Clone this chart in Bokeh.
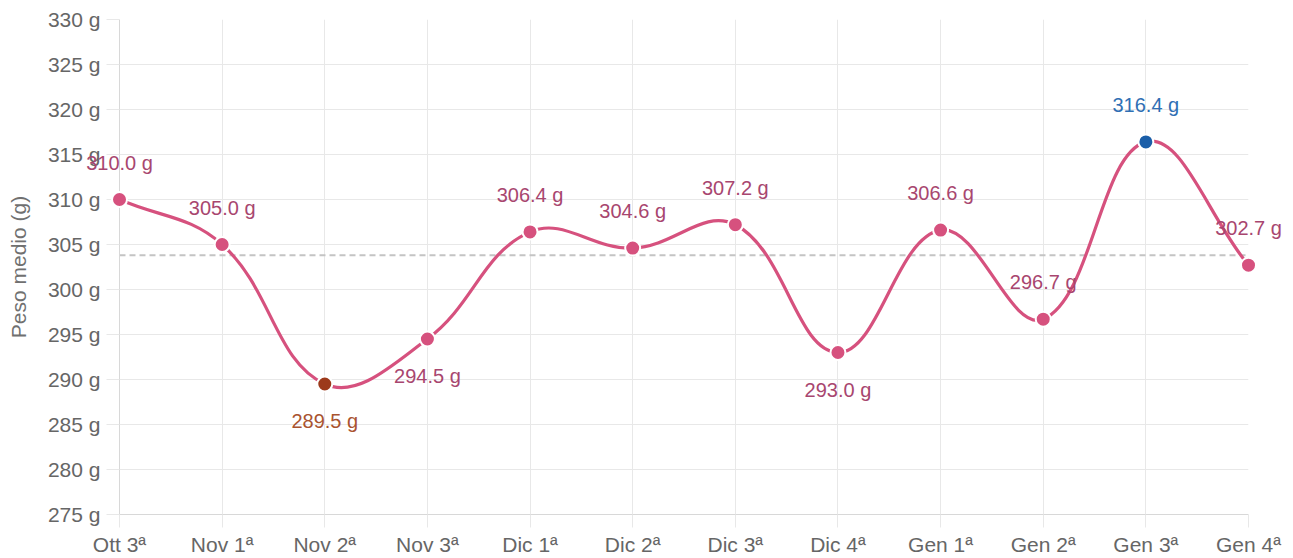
import numpy as np
from bokeh.plotting import figure
from bokeh.models import FixedTicker, PrintfTickFormatter, Span, ColumnDataSource, Range1d
from bokeh.embed import file_html
from bokeh.resources import INLINE
from bokeh.core.properties import value

# ---- data ----
categories = ["Ott 3ª", "Nov 1ª", "Nov 2ª", "Nov 3ª", "Dic 1ª", "Dic 2ª",
              "Dic 3ª", "Dic 4ª", "Gen 1ª", "Gen 2ª", "Gen 3ª", "Gen 4ª"]
weights = [310.0, 305.0, 289.5, 294.5, 306.4, 304.6, 307.2, 293.0, 306.6, 296.7, 316.4, 302.7]
reference_weight = 303.8
y_ticks = [275, 280, 285, 290, 295, 300, 305, 310, 315, 320, 325, 330]

# ---- layout ----
W, H = 1293, 558
ML, MR, MT, MB = 119, 45, 19, 43
FONT = "Liberation Sans"
n = len(categories)
xs = list(range(n))
ymin, ymax = y_ticks[0], y_ticks[-1]

p = figure(width=W, height=H, x_range=Range1d(0, n - 1), y_range=Range1d(ymin, ymax),
           output_backend="svg", toolbar_location=None,
           min_border_left=ML, min_border_right=MR, min_border_top=MT, min_border_bottom=MB)
p.outline_line_color = None
p.background_fill_color = "white"

grid_col = "#e8e8e8"
p.xgrid.grid_line_color = grid_col
p.ygrid.grid_line_color = grid_col

# y axis
p.yaxis.ticker = FixedTicker(ticks=y_ticks)
p.yaxis.formatter = PrintfTickFormatter(format="%d g")
p.yaxis.axis_label = "Peso medio (g)"
p.yaxis.axis_label_text_font = FONT
p.yaxis.axis_label_text_font_size = "21px"
p.yaxis.axis_label_text_font_style = "normal"
p.yaxis.axis_label_text_color = "#707070"
p.yaxis.axis_label_standoff = 15

# x axis
p.xaxis.ticker = FixedTicker(ticks=xs)
p.xaxis.major_label_overrides = {i: c for i, c in enumerate(categories)}

for ax in (p.xaxis, p.yaxis):
    ax.major_label_text_font = FONT
    ax.major_label_text_font_size = "21px"
    ax.major_label_text_color = "#666666"
    ax.major_tick_in = 0
    ax.major_tick_out = 13
    ax.major_tick_line_color = grid_col
    ax.minor_tick_line_color = None
    ax.axis_line_color = "#d8d8d8"
p.yaxis.major_label_standoff = 6
p.xaxis.major_label_standoff = 5

# reference dashed line
p.add_layout(Span(location=reference_weight, dimension="width", line_color="#c4c4c4",
                  line_dash="6 4", line_width=2, level="underlay"))

# ---- Chart.js-like spline (tension 0.4) ----
fw = W - ML - MR
fh = H - MT - MB
sx = fw / (n - 1)
sy = fh / (ymax - ymin)
px = np.array(xs, float) * sx
py = np.array(weights, float) * sy
t = 0.4
prev_c = []
next_c = []
for i in range(n):
    a = i - 1 if i > 0 else i
    b = i + 1 if i < n - 1 else i
    d01 = np.hypot(px[i] - px[a], py[i] - py[a])
    d12 = np.hypot(px[b] - px[i], py[b] - py[i])
    tot = d01 + d12
    s01 = d01 / tot if tot else 0
    s12 = d12 / tot if tot else 0
    fa, fb = t * s01, t * s12
    prev_c.append((px[i] - fa * (px[b] - px[a]), py[i] - fa * (py[b] - py[a])))
    next_c.append((px[i] + fb * (px[b] - px[a]), py[i] + fb * (py[b] - py[a])))

seg = ColumnDataSource(dict(
    x0=[xs[i] for i in range(n - 1)],
    y0=[weights[i] for i in range(n - 1)],
    x1=[xs[i + 1] for i in range(n - 1)],
    y1=[weights[i + 1] for i in range(n - 1)],
    cx0=[next_c[i][0] / sx for i in range(n - 1)],
    cy0=[next_c[i][1] / sy for i in range(n - 1)],
    cx1=[prev_c[i + 1][0] / sx for i in range(n - 1)],
    cy1=[prev_c[i + 1][1] / sy for i in range(n - 1)],
))
p.bezier(x0="x0", y0="y0", x1="x1", y1="y1", cx0="cx0", cy0="cy0", cx1="cx1", cy1="cy1",
         source=seg, line_color="#d6517e", line_width=3.2, line_cap="round")

# ---- points and labels ----
imin = int(np.argmin(weights))
imax = int(np.argmax(weights))
fill = []
lab_col = []
for i in range(n):
    if i == imin:
        fill.append("#9c3a1b"); lab_col.append("#a9532f")
    elif i == imax:
        fill.append("#1b5ea8"); lab_col.append("#2f6fb4")
    else:
        fill.append("#d6517e"); lab_col.append("#a8466f")
offs = [37 if w < 295 else -37 for w in weights]
labels = ["%.1f g" % w for w in weights]
src = ColumnDataSource(dict(x=xs, y=weights, fill=fill, lc=lab_col, off=offs, lab=labels))

pts = p.scatter("x", "y", source=src, size=15, fill_color="fill", line_color="white", line_width=2)
pts.level = "overlay"
txt = p.text("x", "y", text="lab", source=src, y_offset="off", text_color="lc",
             text_align="center", text_baseline="middle",
             text_font=value(FONT), text_font_size="20px")
txt.level = "overlay"

open("out.html", "w").write(file_html(p, INLINE))
